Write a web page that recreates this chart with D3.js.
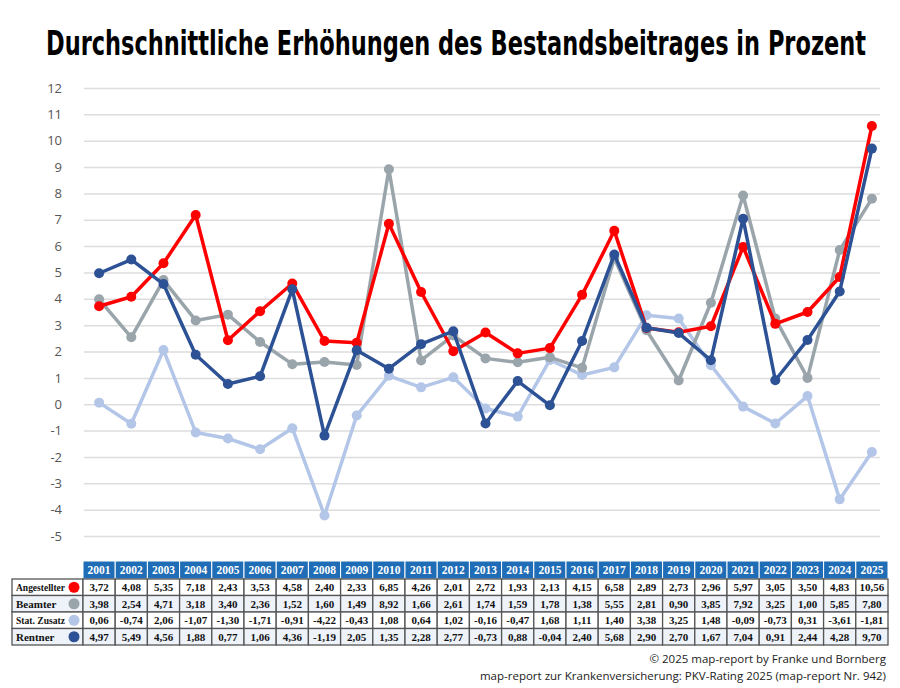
<!DOCTYPE html>
<html>
<head>
<meta charset="utf-8">
<script src="https://cdn.jsdelivr.net/npm/d3@7"></script>
<style>
  body { margin: 0; background: #fff; }
  svg { display: block; }
</style>
</head>
<body>
<svg id="chart" width="900" height="688"></svg>
<script>
// years and series
const years = d3.range(2001, 2026);
const angestellter = [3.72, 4.08, 5.35, 7.18, 2.43, 3.53, 4.58, 2.40, 2.33, 6.85, 4.26, 2.01, 2.72, 1.93, 2.13, 4.15, 6.58, 2.89, 2.73, 2.96, 5.97, 3.05, 3.50, 4.83, 10.56];
const beamter = [3.98, 2.54, 4.71, 3.18, 3.40, 2.36, 1.52, 1.60, 1.49, 8.92, 1.66, 2.61, 1.74, 1.59, 1.78, 1.38, 5.55, 2.81, 0.90, 3.85, 7.92, 3.25, 1.00, 5.85, 7.80];
const statZusatz = [0.06, -0.74, 2.06, -1.07, -1.30, -1.71, -0.91, -4.22, -0.43, 1.08, 0.64, 1.02, -0.16, -0.47, 1.68, 1.11, 1.40, 3.38, 3.25, 1.48, -0.09, -0.73, 0.31, -3.61, -1.81];
const rentner = [4.97, 5.49, 4.56, 1.88, 0.77, 1.06, 4.36, -1.19, 2.05, 1.35, 2.28, 2.77, -0.73, 0.88, -0.04, 2.40, 5.68, 2.90, 2.70, 1.67, 7.04, 0.91, 2.44, 4.28, 9.70];
const yTicks = d3.range(-5, 13);

// table rows in display order, lines in draw order
const rows = [
  { name: "Angestellter", vals: angestellter, color: "#ff0000" },
  { name: "Beamter", vals: beamter, color: "#9aa5ab" },
  { name: "Stat. Zusatz", vals: statZusatz, color: "#b3c6e8" },
  { name: "Rentner", vals: rentner, color: "#2d5195" }
];
const drawOrder = [2, 1, 0, 3];

const svg = d3.select("#chart");
const fmt = v => v.toFixed(2).replace(".", ",");

const x = d3.scaleBand().domain(years).range([83, 888]);
const y = d3.scaleLinear().domain([-5, 12]).range([536, 88]);

// title: condensed look = narrow font stretched vertically
const title = svg.append("text")
  .attr("transform", "translate(456,55) scale(1,1.42)")
  .attr("text-anchor", "middle")
  .style("font-family", "'DejaVu Sans Condensed', 'DejaVu Sans'")
  .style("font-weight", "bold")
  .style("font-size", "24px")
  .attr("fill", "#000")
  .text("Durchschnittliche Erhöhungen des Bestandsbeitrages in Prozent");
title.attr("textLength", 820).attr("lengthAdjust", "spacingAndGlyphs");

// gridlines + y labels
const yAxis = svg.append("g")
  .attr("transform", "translate(84,0)")
  .call(d3.axisLeft(y).tickValues(yTicks).tickSize(-796).tickPadding(22).tickFormat(d => String(d)));
yAxis.select(".domain").remove();
yAxis.selectAll(".tick line").attr("stroke", "#dddddd").attr("stroke-width", 1.5);
yAxis.selectAll(".tick text")
  .attr("fill", "#555")
  .style("font-family", "'Open Sans', sans-serif")
  .style("font-size", "13px");

// lines
const line = d3.line()
  .x((d, i) => x(years[i]) + x.bandwidth() / 2)
  .y(d => y(d));

drawOrder.forEach(k => {
  const r = rows[k];
  const g = svg.append("g");
  g.append("path")
    .datum(r.vals)
    .attr("d", line)
    .attr("fill", "none")
    .attr("stroke", r.color)
    .attr("stroke-width", 3.5)
    .attr("stroke-linejoin", "round");
  g.selectAll("circle").data(r.vals).join("circle")
    .attr("cx", (d, i) => x(years[i]) + x.bandwidth() / 2)
    .attr("cy", d => y(d))
    .attr("r", 5)
    .attr("fill", r.color);
});

// table
const headTop = 561, headH = 18, rowH = 16.5, labelLeft = 12;
const tfont = "'Liberation Serif', 'DejaVu Serif', serif";
const tbl = svg.append("g");

tbl.selectAll("rect.head").data(years).join("rect")
  .attr("x", d => x(d)).attr("y", headTop)
  .attr("width", x.bandwidth()).attr("height", headH)
  .attr("fill", "#1f6db6").attr("stroke", "#fff").attr("stroke-width", 1);
tbl.selectAll("text.head").data(years).join("text")
  .attr("x", d => x(d) + x.bandwidth() / 2).attr("y", headTop + 13)
  .attr("text-anchor", "middle").attr("fill", "#fff")
  .style("font-family", tfont).style("font-weight", "bold").style("font-size", "11.5px")
  .text(d => d);

rows.forEach((r, ri) => {
  const top = headTop + headH + ri * rowH;
  const bg = ri % 2 === 1 ? "#eef2f9" : "#ffffff";
  const rg = tbl.append("g");
  rg.append("rect")
    .attr("x", labelLeft).attr("y", top)
    .attr("width", x(2001) - labelLeft).attr("height", rowH)
    .attr("fill", bg).attr("stroke", "#555").attr("stroke-width", 1.3);
  const lbl = rg.append("text")
    .attr("x", labelLeft + 4).attr("y", top + 12)
    .style("font-family", tfont).style("font-weight", "bold").style("font-size", "11px")
    .attr("fill", "#111")
    .text(r.name);
  // keep the label clear of the dot
  const maxW = x(2001) - 15 - (labelLeft + 4) - 3;
  if (lbl.node().getComputedTextLength() > maxW) {
    lbl.attr("textLength", maxW).attr("lengthAdjust", "spacingAndGlyphs");
  }
  rg.append("circle")
    .attr("cx", x(2001) - 9).attr("cy", top + rowH / 2).attr("r", 5.5)
    .attr("fill", r.color);
  rg.selectAll("rect.cell").data(r.vals).join("rect")
    .attr("x", (d, i) => x(years[i])).attr("y", top)
    .attr("width", x.bandwidth()).attr("height", rowH)
    .attr("fill", bg).attr("stroke", "#555").attr("stroke-width", 1.3);
  rg.selectAll("text.cell").data(r.vals).join("text")
    .attr("x", (d, i) => x(years[i]) + x.bandwidth() / 2).attr("y", top + 12)
    .attr("text-anchor", "middle").attr("fill", "#111")
    .style("font-family", tfont).style("font-weight", "bold").style("font-size", "11px")
    .text(d => fmt(d));
});

// source footer
const foot = ["© 2025 map-report by Franke und Bornberg",
  "map-report zur Krankenversicherung: PKV-Rating 2025 (map-report Nr. 942)"];
svg.selectAll("text.foot").data(foot).join("text")
  .attr("x", 886).attr("y", (d, i) => 663 + i * 17)
  .attr("text-anchor", "end").attr("fill", "#222")
  .style("font-family", "'Open Sans', sans-serif").style("font-size", "11.5px")
  .text(d => d);
</script>
</body>
</html>
